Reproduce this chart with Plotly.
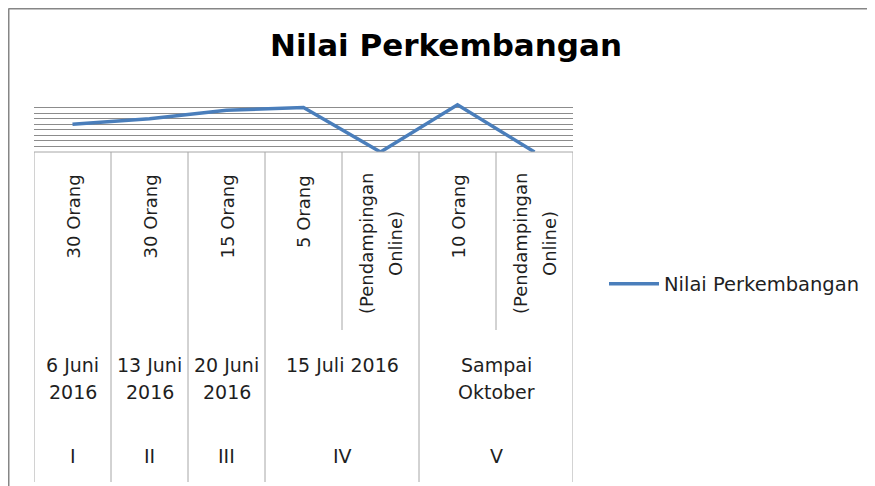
import plotly.graph_objects as go

# ---- data ----
level1 = ["30 Orang", "30 Orang", "15 Orang", "5 Orang", "(Pendampingan<br>Online)",
          "10 Orang", "(Pendampingan<br>Online)"]
level2 = ["6 Juni<br>2016", "13 Juni<br>2016", "20 Juni<br>2016", "15 Juli 2016", "Sampai<br>Oktober"]
level2_span = [(0, 0), (1, 1), (2, 2), (3, 4), (5, 6)]
level3 = ["I", "II", "III", "IV", "V"]
values = [50, 60, 75, 80, 0, 85, 0]
series_name = "Nilai Perkembangan"
title_text = "Nilai Perkembangan"

PW, PH = 875, 486          # page size
OFF = 8                    # default body margin of the html page
W, H = PW - OFF, PH - OFF  # figure size
# plot area in page pixels
PL, PR, PT, PB = 34, 573, 102, 152
L, R, T, B = PL - OFF, PR - OFF, PT - OFF, PB - OFF
FONT = "DejaVu Sans"


def px2x(p):  # page pixel -> paper x
    return (p - OFF - L) / (R - L)


def px2y(p):  # page pixel -> paper y
    return (B - (p - OFF)) / (B - T)


n = len(values)
x = list(range(n))

fig = go.Figure()
fig.add_trace(go.Scatter(x=x, y=values, mode="lines", name=series_name,
                         line=dict(color="#4a7ebb", width=3.5)))

shapes = []
tcol = "#a6a6a6"
shapes.append(dict(type="line", xref="x", yref="paper", x0=-0.5, x1=n - 0.5,
                   y0=0, y1=0, line=dict(color=tcol, width=1)))
bounds = sorted({s - 0.5 for s, e in level2_span} | {level2_span[-1][1] + 0.5})
for b in bounds:
    shapes.append(dict(type="line", xref="x", yref="paper", x0=b, x1=b,
                       y0=0, y1=px2y(482), line=dict(color=tcol, width=1)))
for s, e in level2_span:
    for k in range(s + 1, e + 1):
        shapes.append(dict(type="line", xref="x", yref="paper", x0=k - 0.5, x1=k - 0.5,
                           y0=0, y1=px2y(330), line=dict(color=tcol, width=1)))
fcol = "#868686"
shapes.append(dict(type="line", xref="paper", yref="paper", x0=px2x(8.5), x1=px2x(880),
                   y0=px2y(8.5), y1=px2y(8.5), line=dict(color=fcol, width=2)))
shapes.append(dict(type="line", xref="paper", yref="paper", x0=px2x(8.5), x1=px2x(8.5),
                   y0=px2y(8.5), y1=px2y(490), line=dict(color=fcol, width=2)))

annotations = []
tfont = dict(family=FONT, size=18, color="#1f1f1f")
tfont2 = dict(family=FONT, size=19, color="#1f1f1f")
# level 1: rotated labels (multi-line ones are centred on each other)
for i, lab in enumerate(level1):
    parts = lab.split("<br>")
    k = len(parts)
    for j, part in enumerate(parts):
        if k == 1:
            pos = dict(y=px2y(173), yanchor="top")
        else:
            pos = dict(y=px2y(244), yanchor="middle")
        annotations.append(dict(x=i, xref="x", yref="paper", text=part,
                                showarrow=False, textangle=-90, xanchor="center",
                                font=tfont, xshift=(j - (k - 1) / 2) * 29, **pos))
# level 2: dates
for (s, e), lab in zip(level2_span, level2):
    for j, part in enumerate(lab.split("<br>")):
        annotations.append(dict(x=(s + e) / 2, y=px2y(365 + 27 * j), xref="x", yref="paper",
                                text=part, showarrow=False, xanchor="center",
                                yanchor="middle", font=tfont2))
# level 3: roman numerals
for (s, e), lab in zip(level2_span, level3):
    annotations.append(dict(x=(s + e) / 2, y=px2y(456), xref="x", yref="paper", text=lab,
                            showarrow=False, xanchor="center", yanchor="middle",
                            font=tfont2))
# title
annotations.append(dict(x=px2x(446), y=px2y(45), xref="paper", yref="paper",
                        text="<b>" + title_text + "</b>", showarrow=False,
                        xanchor="center", yanchor="middle",
                        font=dict(family=FONT, size=31, color="#000000")))

fig.update_layout(
    width=W, height=H,
    margin=dict(l=L, r=W - R, t=T, b=H - B, pad=0),
    paper_bgcolor="white", plot_bgcolor="white",
    showlegend=True,
    legend=dict(xref="container", yref="container",
                x=(604 - OFF) / W, y=1 - (284 - OFF) / H,
                xanchor="left", yanchor="middle",
                font=dict(family=FONT, size=19.5, color="#1f1f1f"),
                itemwidth=50, bgcolor="rgba(0,0,0,0)", borderwidth=0),
    xaxis=dict(range=[-0.5, n - 0.5], showticklabels=False, showgrid=False,
               zeroline=False, showline=False, ticks=""),
    yaxis=dict(range=[0, 90], dtick=10, showticklabels=False, showgrid=True,
               gridcolor="#8c8c8c", gridwidth=1, zeroline=False, showline=False, ticks=""),
    shapes=shapes,
    annotations=annotations,
)

fig.write_html("out.html")
